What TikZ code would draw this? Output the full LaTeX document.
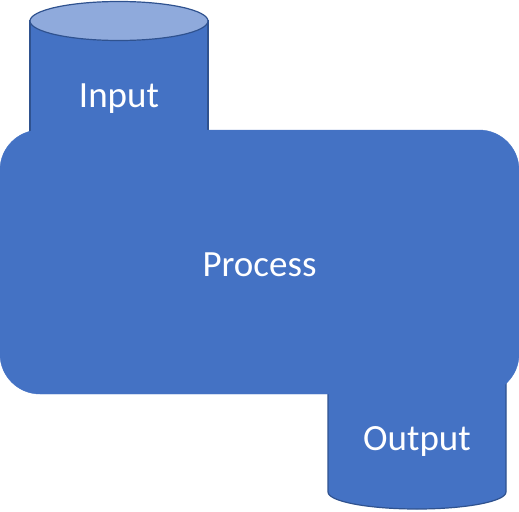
\documentclass[tikz,border=0pt]{standalone}
\usepackage{fontspec}
\setmainfont{Carlito}
\usepackage{tikz}
\usetikzlibrary{positioning}
\definecolor{procblue}{HTML}{4472C4}
\definecolor{lidblue}{HTML}{8FAADC}
\definecolor{tankedge}{HTML}{2F528F}
\tikzstyle{tank}=[fill=procblue,draw=tankedge,line width=1.2pt]
\tikzstyle{lid}=[fill=lidblue,draw=tankedge,line width=1.2pt]
\tikzstyle{block}=[rectangle,rounded corners=40pt,fill=procblue,draw=procblue,minimum width=519pt,minimum height=264pt,inner sep=0pt]
\tikzstyle{boxtext}=[text=white,font=\fontsize{37}{44}\selectfont]

\begin{document}
\begin{tikzpicture}[x=1pt,y=-1pt]

  \def\rx{89};

  \useasboundingbox (0,0) rectangle (519,511);

  % input tank
  \draw[tank] (30,21) rectangle (208,150);
  \draw[lid] (119,21) ellipse [x radius=\rx, y radius=19.5];

  % output tank
  \draw[tank] (328,370) -- (328,492) arc[start angle=180, end angle=0, x radius=\rx, y radius=17] -- (506,370) -- cycle;

  \node[block] (process) at (259.5,262) {};

  \foreach \x/\y/\name/\label in {119/99/input/Input, 259.5/265/proc/Process, 417/441/output/Output}
          \node[boxtext] (\name) at (\x,\y) {\label};

\end{tikzpicture}
\end{document}
